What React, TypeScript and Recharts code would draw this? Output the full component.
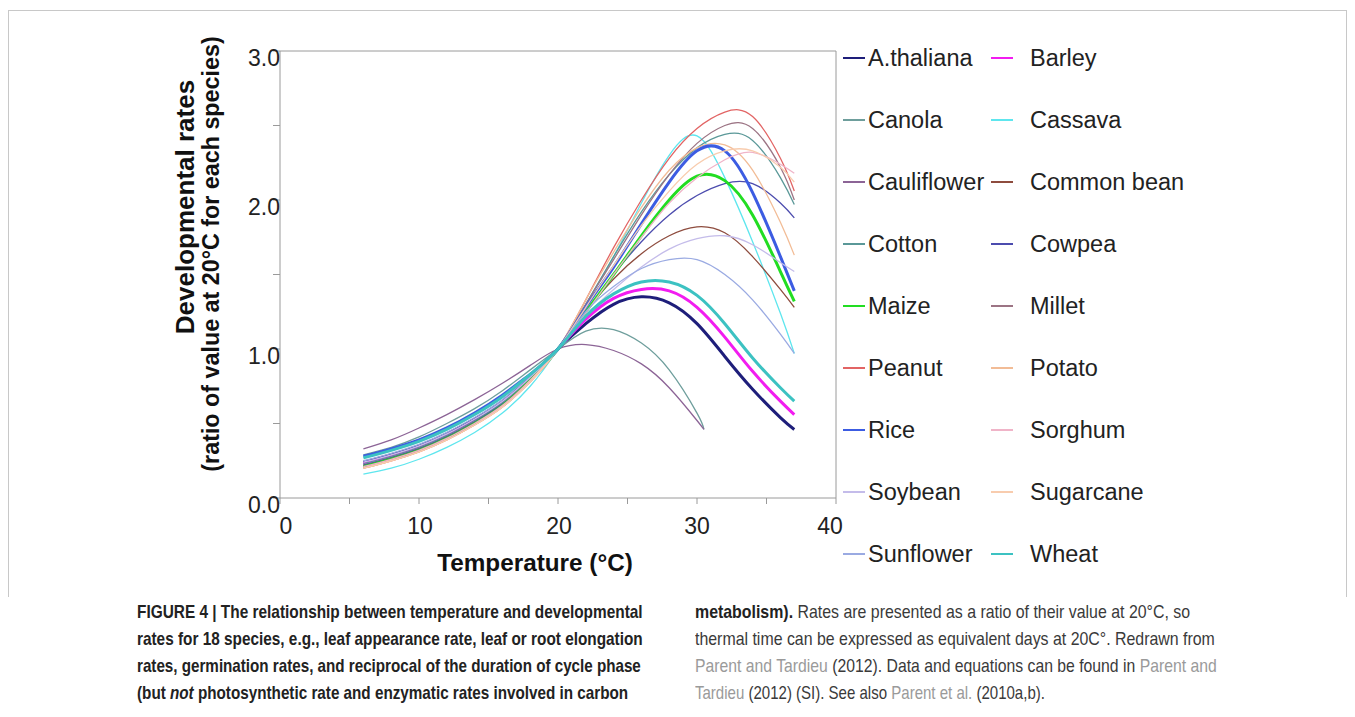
import { useLayoutEffect, useRef, useState } from 'react';
import { LineChart, Line, XAxis, YAxis, ReferenceLine } from 'recharts';

const temps = [6, 8, 10, 12, 14, 16, 18, 20, 22, 24, 26, 28, 30, 32, 34, 36, 37];
const tempsShort = [6, 8, 10, 12, 14, 16, 18, 20, 22, 24, 26, 28, 30, 30.5];

// rate relative to 20°C
const athaliana = [0.24, 0.29, 0.35, 0.43, 0.53, 0.65, 0.81, 1.0, 1.17, 1.3, 1.35, 1.31, 1.17, 0.95, 0.73, 0.54, 0.46];
const barley = [0.23, 0.28, 0.34, 0.42, 0.52, 0.64, 0.8, 1.0, 1.2, 1.34, 1.4, 1.39, 1.28, 1.08, 0.85, 0.65, 0.56];
const canola = [0.29, 0.34, 0.41, 0.5, 0.6, 0.72, 0.86, 1.0, 1.12, 1.13, 1.04, 0.86, 0.57, 0.46];
const cassava = [0.16, 0.2, 0.26, 0.34, 0.44, 0.57, 0.75, 1.0, 1.3, 1.62, 1.98, 2.3, 2.43, 2.15, 1.72, 1.24, 0.97];
const cauliflower = [0.33, 0.39, 0.47, 0.56, 0.66, 0.77, 0.89, 1.0, 1.03, 0.99, 0.9, 0.74, 0.52, 0.46];
const commonBean = [0.22, 0.27, 0.33, 0.41, 0.51, 0.63, 0.79, 1.0, 1.25, 1.47, 1.64, 1.76, 1.82, 1.78, 1.62, 1.4, 1.28];
const cotton = [0.23, 0.28, 0.34, 0.42, 0.52, 0.64, 0.8, 1.0, 1.3, 1.62, 1.92, 2.17, 2.35, 2.44, 2.4, 2.15, 1.97];
const cowpea = [0.22, 0.27, 0.33, 0.41, 0.51, 0.63, 0.79, 1.0, 1.25, 1.5, 1.72, 1.9, 2.03, 2.11, 2.11, 1.98, 1.88];
const maize = [0.21, 0.26, 0.32, 0.4, 0.5, 0.62, 0.79, 1.0, 1.25, 1.5, 1.76, 2.0, 2.16, 2.13, 1.9, 1.52, 1.32];
const millet = [0.21, 0.26, 0.32, 0.4, 0.5, 0.62, 0.79, 1.0, 1.3, 1.6, 1.9, 2.17, 2.38, 2.5, 2.48, 2.22, 2.0];
const peanut = [0.2, 0.25, 0.31, 0.39, 0.49, 0.61, 0.78, 1.0, 1.33, 1.68, 2.0, 2.28, 2.48, 2.59, 2.56, 2.28, 2.06];
const potato = [0.2, 0.25, 0.31, 0.39, 0.49, 0.61, 0.78, 1.0, 1.33, 1.65, 1.95, 2.2, 2.35, 2.37, 2.2, 1.85, 1.63];
const rice = [0.28, 0.33, 0.39, 0.47, 0.57, 0.69, 0.83, 1.0, 1.28, 1.55, 1.84, 2.12, 2.33, 2.33, 2.05, 1.62, 1.39];
const sorghum = [0.21, 0.26, 0.32, 0.4, 0.5, 0.62, 0.79, 1.0, 1.24, 1.5, 1.75, 1.98, 2.15, 2.27, 2.32, 2.24, 2.18];
const soybean = [0.24, 0.29, 0.35, 0.43, 0.53, 0.65, 0.81, 1.0, 1.22, 1.4, 1.55, 1.67, 1.74, 1.76, 1.7, 1.58, 1.52];
const sugarcane = [0.2, 0.25, 0.31, 0.39, 0.49, 0.61, 0.78, 1.0, 1.28, 1.56, 1.83, 2.06, 2.24, 2.33, 2.33, 2.22, 2.12];
const sunflower = [0.25, 0.3, 0.36, 0.44, 0.54, 0.66, 0.82, 1.0, 1.25, 1.42, 1.54, 1.6, 1.6, 1.5, 1.33, 1.1, 0.97];
const wheat = [0.27, 0.32, 0.38, 0.46, 0.56, 0.68, 0.83, 1.0, 1.22, 1.37, 1.45, 1.45, 1.36, 1.17, 0.94, 0.74, 0.65];

const xTicks = [0, 5, 10, 15, 20, 25, 30, 35, 40];
const yTicks = [0, 0.5, 1, 1.5, 2, 2.5, 3];

const species = [
  { name: 'A.thaliana', t: temps, v: athaliana, color: '#1e1e7a', w: 3 },
  { name: 'Barley', t: temps, v: barley, color: '#f21cf0', w: 3 },
  { name: 'Canola', t: tempsShort, v: canola, color: '#6e9e9c', w: 1.3 },
  { name: 'Cassava', t: temps, v: cassava, color: '#5ee6ee', w: 1.3 },
  { name: 'Cauliflower', t: tempsShort, v: cauliflower, color: '#8c6496', w: 1.3 },
  { name: 'Common bean', t: temps, v: commonBean, color: '#8e4c3e', w: 1.3 },
  { name: 'Cotton', t: temps, v: cotton, color: '#5a9898', w: 1.3 },
  { name: 'Cowpea', t: temps, v: cowpea, color: '#4c4cae', w: 1.3 },
  { name: 'Maize', t: temps, v: maize, color: '#22dd22', w: 3 },
  { name: 'Millet', t: temps, v: millet, color: '#9c7484', w: 1.3 },
  { name: 'Peanut', t: temps, v: peanut, color: '#e26464', w: 1.3 },
  { name: 'Potato', t: temps, v: potato, color: '#f2bc96', w: 1.3 },
  { name: 'Rice', t: temps, v: rice, color: '#3c5ce2', w: 3 },
  { name: 'Sorghum', t: temps, v: sorghum, color: '#f0b4c8', w: 1.3 },
  { name: 'Soybean', t: temps, v: soybean, color: '#c4bcea', w: 1.3 },
  { name: 'Sugarcane', t: temps, v: sugarcane, color: '#f8ccae', w: 1.3 },
  { name: 'Sunflower', t: temps, v: sunflower, color: '#9aaae2', w: 1.3 },
  { name: 'Wheat', t: temps, v: wheat, color: '#3cc2c2', w: 3 },
];

const font = "'Liberation Sans', Arial, sans-serif";
const axisGray = '#9a9a9a';
const linkGray = '#9a9a9a';

function YTick(props: any) {
  const { x, y, payload } = props;
  const v = payload.value;
  return (
    <g>
      <line x1={x - 7} x2={x} y1={y} y2={y} stroke={axisGray} />
      {Number.isInteger(v) && (
        <text x={x} y={y + 7} textAnchor='end' dominantBaseline='central' fontSize={23} fill='#222' fontFamily={font}>
          {v.toFixed(1)}
        </text>
      )}
    </g>
  );
}

// small horizontal nudges of the x labels as printed in the figure
const xLabelShift: Record<number, number> = { 0: 6, 10: 1, 20: 1, 30: 0, 40: -6 };

function XTick(props: any) {
  const { x, y, payload } = props;
  const v = payload.value;
  return (
    <g>
      <line x1={x} x2={x} y1={y} y2={y + 6} stroke={axisGray} />
      {v % 10 === 0 && (
        <text x={x + (xLabelShift[v] || 0)} y={y + 28} textAnchor='middle' dominantBaseline='central' fontSize={23} fill='#222' fontFamily={font}>
          {v}
        </text>
      )}
    </g>
  );
}

// caption line squeezed horizontally to the width it has in the figure
function CapLine({ x, y, width, bold, color, children }: any) {
  const ref = useRef<HTMLSpanElement>(null);
  const [sx, setSx] = useState(1);
  useLayoutEffect(() => {
    if (ref.current) setSx(width / ref.current.offsetWidth);
  }, [width]);
  return (
    <div style={{ position: 'absolute', left: x, top: y, height: 22 }}>
      <span
        ref={ref}
        style={{
          display: 'inline-block',
          whiteSpace: 'nowrap',
          fontSize: 18.5,
          lineHeight: '22px',
          fontWeight: bold ? 'bold' : 'normal',
          color,
          transform: `scaleX(${sx})`,
          transformOrigin: '0 0',
        }}
      >
        {children}
      </span>
    </div>
  );
}

const link = { color: linkGray };

export default function App() {
  return (
    <div style={{ position: 'relative', width: 1339, height: 700, fontFamily: font }}>
      <div
        style={{
          position: 'absolute',
          left: 0,
          top: 2,
          width: 1339,
          height: 587,
          borderTop: '1px solid #c8c8c8',
          borderLeft: '1px solid #c8c8c8',
          borderRight: '1px solid #c8c8c8',
          boxSizing: 'border-box',
        }}
      />
      <div style={{ position: 'absolute', left: 0, top: 0 }}>
        <LineChart width={850} height={580} margin={{ top: 43, right: 22, left: 212, bottom: 50 }}>
          <XAxis
            dataKey='t'
            type='number'
            domain={[0, 40]}
            ticks={xTicks}
            tick={<XTick />}
            tickLine={false}
            tickSize={0}
            tickMargin={0}
            height={40}
            stroke={axisGray}
            allowDuplicatedCategory={false}
          />
          <YAxis
            type='number'
            domain={[0, 3]}
            ticks={yTicks}
            tick={<YTick />}
            tickLine={false}
            tickSize={0}
            tickMargin={0}
            width={60}
            stroke={axisGray}
          />
          <ReferenceLine y={3} stroke={axisGray} />
          <ReferenceLine x={40} stroke={axisGray} />
          {species.map((s) => (
            <Line
              key={s.name}
              data={s.t.map((t, i) => ({ t, v: s.v[i] }))}
              dataKey='v'
              type='natural'
              stroke={s.color}
              strokeWidth={s.w}
              dot={false}
              isAnimationActive={false}
            />
          ))}
        </LineChart>
      </div>

      {/* axis titles */}
      <div
        style={{
          position: 'absolute',
          left: 177,
          top: 199,
          transform: 'translate(-50%, -50%) rotate(-90deg)',
          whiteSpace: 'nowrap',
          fontWeight: 'bold',
          fontSize: 26,
          color: '#111',
        }}
      >
        Developmental rates
      </div>
      <div
        style={{
          position: 'absolute',
          left: 203,
          top: 246,
          transform: 'translate(-50%, -50%) rotate(-90deg)',
          whiteSpace: 'nowrap',
          fontWeight: 'bold',
          fontSize: 23.3,
          color: '#111',
        }}
      >
        (ratio of value at 20°C for each species)
      </div>
      <div
        style={{
          position: 'absolute',
          left: 527,
          top: 555,
          transform: 'translate(-50%, -50%)',
          whiteSpace: 'nowrap',
          fontWeight: 'bold',
          fontSize: 24.3,
          color: '#111',
        }}
      >
        Temperature (°C)
      </div>

      {/* legend */}
      {species.map((s, i) => {
        const col = i % 2;
        const row = Math.floor(i / 2);
        const cy = 50 + row * 62;
        const lx = col === 0 ? 835 : 983;
        const tx = col === 0 ? 860 : 1022;
        return (
          <div key={s.name}>
            <div style={{ position: 'absolute', left: lx, top: cy - 1.5, width: 22, height: 0, borderTop: `${Math.max(2, s.w - 0.5)}px solid ${s.color}` }} />
            <div style={{ position: 'absolute', left: tx, top: cy - 14, fontSize: 23.5, lineHeight: '28px', color: '#222', whiteSpace: 'nowrap' }}>
              {s.name}
            </div>
          </div>
        );
      })}

      {/* caption */}
      <CapLine x={129} y={593} width={506} bold color='#222'>
        FIGURE 4 | The relationship between temperature and developmental
      </CapLine>
      <CapLine x={129} y={620} width={506} bold color='#222'>
        rates for 18 species, e.g., leaf appearance rate, leaf or root elongation
      </CapLine>
      <CapLine x={129} y={647} width={504} bold color='#222'>
        rates, germination rates, and reciprocal of the duration of cycle phase
      </CapLine>
      <CapLine x={129} y={674} width={491} bold color='#222'>
        (but <i>not</i> photosynthetic rate and enzymatic rates involved in carbon
      </CapLine>
      <CapLine x={687} y={593} width={495} color='#3a3a3a'>
        <b style={{ color: '#222' }}>metabolism).</b> Rates are presented as a ratio of their value at 20°C, so
      </CapLine>
      <CapLine x={687} y={620} width={520} color='#3a3a3a'>
        thermal time can be expressed as equivalent days at 20C°. Redrawn from
      </CapLine>
      <CapLine x={687} y={647} width={522} color='#3a3a3a'>
        <span style={link}>Parent and Tardieu</span> (2012). Data and equations can be found in <span style={link}>Parent and</span>
      </CapLine>
      <CapLine x={687} y={674} width={350} color='#3a3a3a'>
        <span style={link}>Tardieu</span> (2012) (SI). See also <span style={link}>Parent et al.</span> (2010a,b).
      </CapLine>
    </div>
  );
}
